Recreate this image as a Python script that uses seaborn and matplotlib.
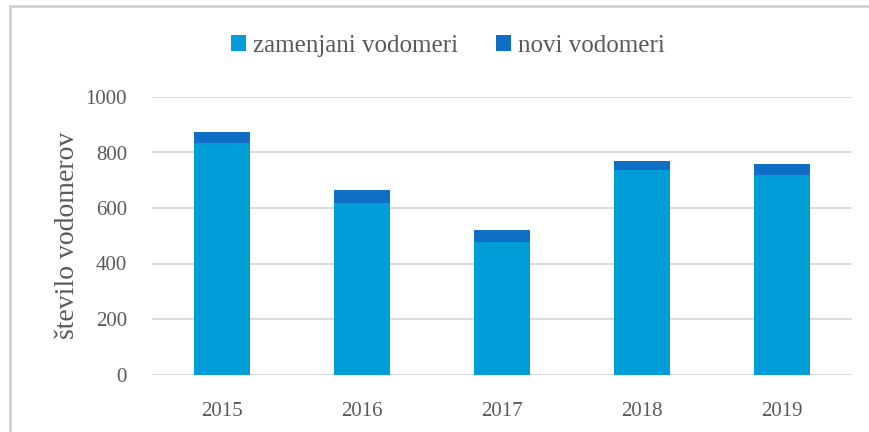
import matplotlib
matplotlib.use("Agg")
import matplotlib.pyplot as plt
import seaborn as sns
import pandas as pd
from matplotlib.patches import Patch, Rectangle

years = ["2015", "2016", "2017", "2018", "2019"]
zamenjani = [833, 618, 476, 737, 719]
novi = [41, 47, 43, 34, 39]
series_names = ["zamenjani vodomeri", "novi vodomeri"]
yticks = [0, 200, 400, 600, 800, 1000]

C_ZAM = "#009DD9"
C_NOVI = "#0F6FC6"
TXT = "#595959"

sns.set_theme(style="white")
plt.rcParams["font.family"] = ["Liberation Serif", "DejaVu Serif"]

df = pd.DataFrame({"leto": years, "zamenjani": zamenjani, "novi": novi})
df["skupaj"] = df["zamenjani"] + df["novi"]

fig = plt.figure(figsize=(8.69, 4.32), dpi=100)
ax = fig.add_axes([152/869, 1 - 374.5/432, 700/869, 277.5/432])

sns.barplot(data=df, x="leto", y="skupaj", color=C_NOVI, width=0.4,
            saturation=1, ax=ax, zorder=3, linewidth=0, edgecolor="none")
sns.barplot(data=df, x="leto", y="zamenjani", color=C_ZAM, width=0.4,
            saturation=1, ax=ax, zorder=3, linewidth=0, edgecolor="none")

ax.set_ylim(0, 1000)
ax.set_xlim(-0.5, 4.5)
ax.set_yticks(yticks)
ax.set_yticklabels([str(v) for v in yticks])
ax.yaxis.grid(True, color="#D9D9D9", linewidth=1.3, zorder=0)
ax.set_axisbelow(True)
for s in ax.spines.values():
    s.set_visible(False)
ax.tick_params(axis="both", length=0, labelsize=15, labelcolor=TXT)
ax.tick_params(axis="y", pad=18)
ax.tick_params(axis="x", pad=20)
ax.set_xlabel("")
ax.set_ylabel("število vodomerov", fontsize=20, color=TXT, labelpad=4)

handles = [Patch(facecolor=C_ZAM, edgecolor="none"),
           Patch(facecolor=C_NOVI, edgecolor="none")]
fig.legend(handles, series_names, loc="center", bbox_to_anchor=(448/869, 1 - 46/432),
           ncol=2, frameon=False, fontsize=18, labelcolor=TXT,
           handlelength=0.6, handleheight=0.6, handletextpad=0.3, columnspacing=1.5)

# outer chart frame (cropped at right and bottom)
fig.patches.append(Rectangle((9.5/869, -0.1), 1.2, 1 - 6.5/432 + 0.1,
                             transform=fig.transFigure, fill=False,
                             edgecolor="#D0D0D0", linewidth=2))

fig.savefig("out.png", dpi=100)
